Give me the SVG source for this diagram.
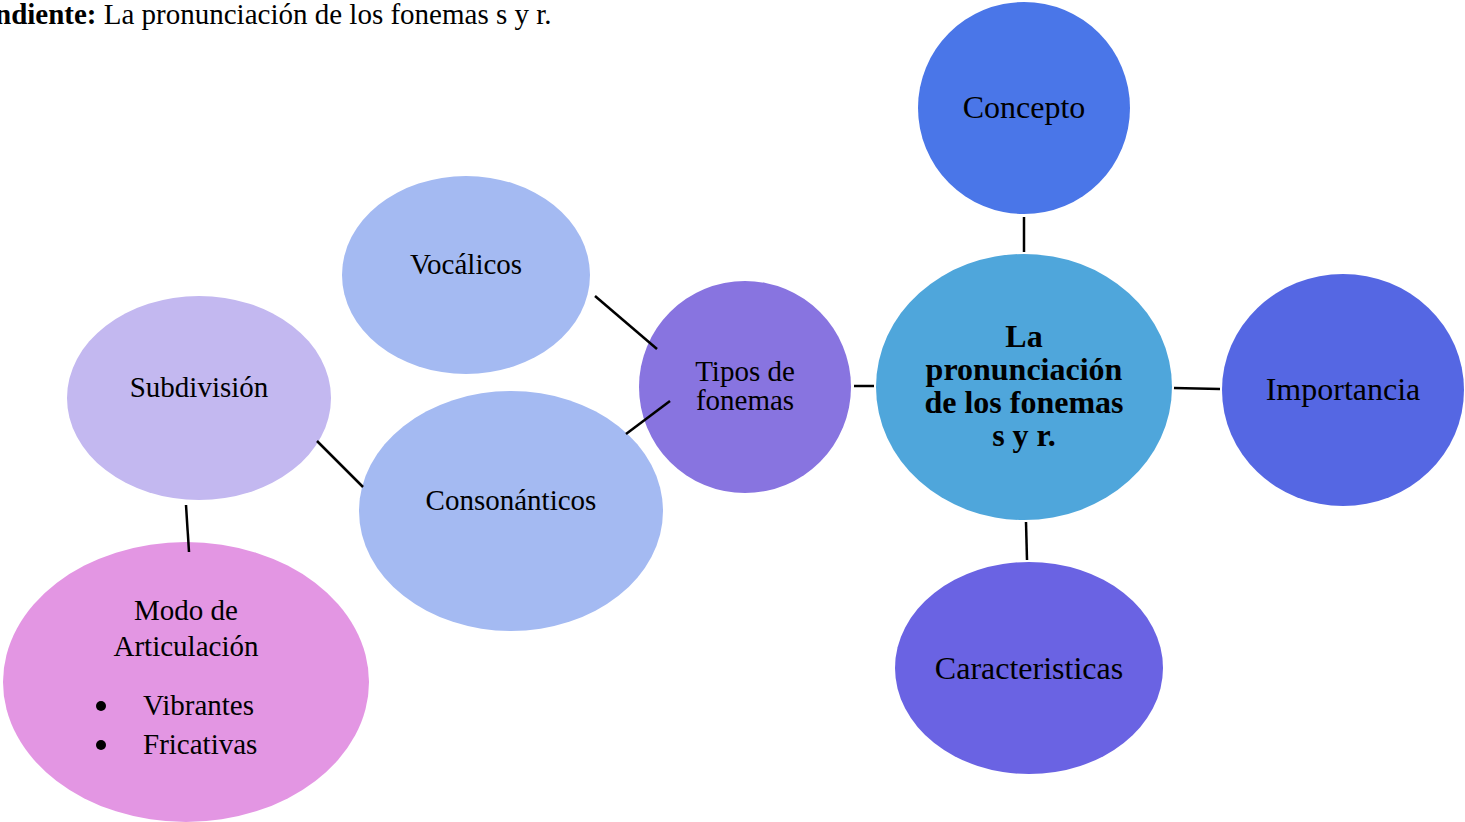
<svg xmlns="http://www.w3.org/2000/svg" width="1465" height="822" viewBox="0 0 1465 822">
<style>
text{font-family:"Liberation Serif","Times New Roman",serif;fill:#000;}
.t{font-size:29px;text-anchor:middle;}
.L{font-size:32px;text-anchor:middle;}
.b{font-size:32px;font-weight:bold;text-anchor:middle;}
.c{stroke:#000;stroke-width:2.5;fill:none;}
</style>
<rect width="1465" height="822" fill="#fff"/>
<text x="-5" y="24" style="font-size:29px"><tspan font-weight="bold">ndiente:</tspan> La pronunciación de los fonemas s y r.</text>
<g id="concepto"><ellipse cx="1024" cy="108" rx="106" ry="106" fill="#4A76E8"/><text class="L" x="1024" y="118">Concepto</text></g>
<g id="centro"><ellipse cx="1024" cy="387" rx="148" ry="133" fill="#4FA6DB"/>
<text class="b" x="1024" y="347">La</text><text class="b" x="1024" y="380">pronunciación</text><text class="b" x="1024" y="413">de los fonemas</text><text class="b" x="1024" y="446">s y r.</text></g>
<g id="importancia"><ellipse cx="1343" cy="390" rx="121" ry="116" fill="#5567E3"/><text class="L" x="1343" y="400">Importancia</text></g>
<g id="caracteristicas"><ellipse cx="1029" cy="668" rx="134" ry="106" fill="#6A63E3"/><text class="L" x="1029" y="679">Caracteristicas</text></g>
<g id="tipos"><ellipse cx="745" cy="387" rx="106" ry="106" fill="#8874E0"/><text class="t" x="745" y="381">Tipos de</text><text class="t" x="745" y="410">fonemas</text></g>
<g id="vocalicos"><ellipse cx="466" cy="275" rx="124" ry="99" fill="#A4BAF2"/><text class="t" x="466" y="274">Vocálicos</text></g>
<g id="consonanticos"><ellipse cx="511" cy="511" rx="152" ry="120" fill="#A4BAF2"/><text class="t" x="511" y="510">Consonánticos</text></g>
<g id="subdivision"><ellipse cx="199" cy="398" rx="132" ry="102" fill="#C3B8F0"/><text class="t" x="199" y="397">Subdivisión</text></g>
<g id="modo"><ellipse cx="186" cy="682" rx="183" ry="140" fill="#E396E3"/>
<text class="t" x="186" y="620">Modo de</text><text class="t" x="186" y="656">Articulación</text>
<circle cx="101" cy="706" r="5" fill="#000"/><circle cx="101" cy="745" r="5" fill="#000"/>
<text x="143" y="715" style="font-size:29px">Vibrantes</text><text x="143" y="754" style="font-size:29px">Fricativas</text></g>
<g id="connectors">
<line class="c" x1="1024" y1="217" x2="1024" y2="252"/>
<line class="c" x1="1174" y1="388" x2="1220" y2="389"/>
<line class="c" x1="1026" y1="522" x2="1027" y2="560"/>
<line class="c" x1="854" y1="386" x2="874" y2="386"/>
<line class="c" x1="595" y1="296" x2="657" y2="349"/>
<line class="c" x1="626" y1="434" x2="670" y2="401"/>
<line class="c" x1="317" y1="441" x2="363" y2="487"/>
<line class="c" x1="186" y1="505" x2="189" y2="552"/>
</g>
</svg>
